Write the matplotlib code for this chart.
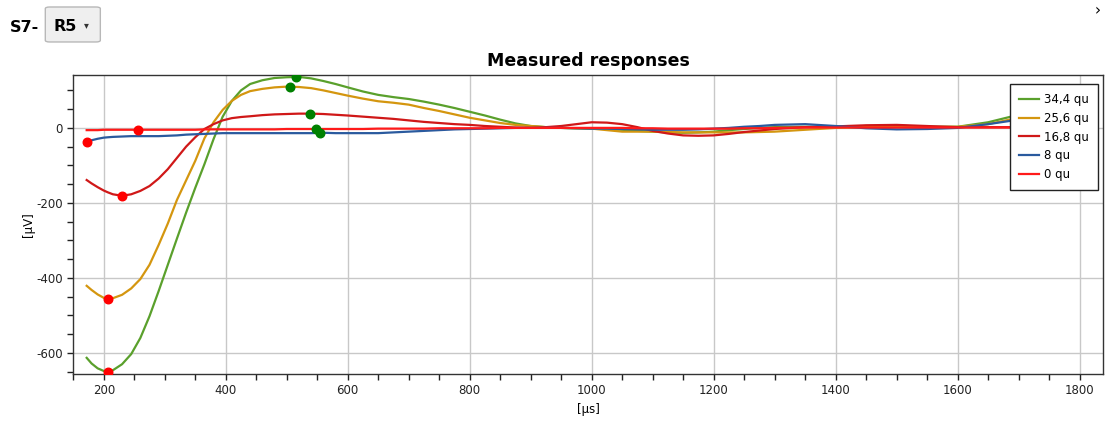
import numpy as np
import matplotlib
matplotlib.use("Agg")
import matplotlib.pyplot as plt
from matplotlib.ticker import MultipleLocator
from matplotlib.patches import FancyBboxPatch

plt.rcParams["axes.unicode_minus"] = False

# -------------------------
# Data
# -------------------------
x_us = [172, 180, 190, 200, 207, 215, 230, 245, 260, 275, 290, 305, 320, 335,
        350, 365, 380, 395, 410, 425, 440, 460, 480, 500, 520, 540, 560, 580,
        600, 625, 650, 675, 700, 725, 750, 775, 800, 825, 850, 875, 900, 925,
        950, 975, 1000, 1025, 1050, 1075, 1100, 1125, 1150, 1175, 1200, 1225,
        1250, 1275, 1300, 1350, 1400, 1450, 1500, 1550, 1600, 1650, 1700, 1720]

resp_34_4 = [-613, -628, -641, -648, -650, -646, -630, -603, -560, -502, -435,
             -365, -295, -226, -160, -97, -30, 30, 72, 100, 117, 127, 133, 135,
             136, 132, 125, 117, 108, 97, 88, 82, 77, 70, 62, 53, 43, 33, 22,
             12, 5, 2, 0, -1, -2, -3, -5, -8, -10, -12, -13, -12, -10, -6, -3,
             0, 2, 3, 2, 5, 6, 3, 3, 15, 35, 42]
resp_25_6 = [-421, -432, -444, -453, -456, -454, -445, -428, -403, -365, -312,
             -255, -192, -140, -88, -28, 15, 48, 72, 88, 98, 104, 108, 110,
             109, 106, 100, 93, 86, 78, 71, 67, 62, 53, 45, 36, 27, 20, 13,
             8, 5, 2, 0, -1, -2, -6, -10, -10, -10, -11, -12, -12, -12, -12,
             -12, -11, -10, -5, 0, 2, 3, 2, 3, 10, 27, 30]
resp_16_8 = [-139, -148, -158, -167, -172, -177, -181, -177, -168, -155, -135,
             -110, -80, -50, -25, -3, 10, 20, 26, 29, 31, 34, 36, 37, 38, 38,
             37, 35, 33, 30, 27, 24, 20, 16, 13, 10, 8, 5, 3, 1, 0, 2, 5, 10,
             15, 14, 10, 2, -8, -15, -20, -21, -20, -16, -11, -7, -3, 2, 4, 7,
             8, 5, 2, 2, 2, 2]
resp_8 = [-37, -33, -29, -26, -25, -24, -23, -22, -22, -22, -22, -21, -20,
          -18, -17, -16, -15, -14, -14, -14, -14, -14, -14, -14, -14, -14,
          -13, -14, -14, -14, -14, -12, -10, -8, -6, -4, -3, -2, -1, 0, 0,
          0, 0, -1, -2, -2, -3, -4, -5, -5, -5, -4, -2, 0, 3, 5, 8, 10, 5,
          -1, -4, -3, 0, 10, 22, 25]
resp_0 = [-6, -6, -6, -5, -5, -5, -5, -5, -5, -5, -5, -5, -5, -5, -5, -4, -4,
          -4, -4, -4, -4, -4, -4, -3, -3, -3, -3, -3, -3, -3, -2, -2, -2, -2,
          -1, -1, -1, -1, 0, 0, 0, 0, 0, 0, 0, 0, 0, -1, -1, -2, -2, -2, -2,
          -2, -1, -1, 0, 1, 1, 1, 1, 1, 1, 1, 1, 1]

labels = ["34,4 qu", "25,6 qu", "16,8 qu", "8 qu", "0 qu"]
series = [resp_34_4, resp_25_6, resp_16_8, resp_8, resp_0]
colors = ["#5aa02c", "#d4960f", "#d01818", "#2a5a9e", "#ff1a1a"]

# minimum / maximum markers per series
min_x = [207, 207, 230, 172, 256]
min_y = [-650, -456, -181, -38, -5]
max_x = [516, 505, 538, 555, 548]
max_y = [136, 110, 38, -13, -3]

# -------------------------
# Plot
# -------------------------
fig = plt.figure(figsize=(11.05, 4.24), dpi=100)
ax = fig.add_axes([0.0663, 0.118, 0.9317, 0.706])

for vals, col, lab in zip(series, colors, labels):
    ax.plot(x_us, vals, color=col, lw=1.6, label=lab, zorder=3)

ax.scatter(max_x, max_y, s=38, color="#008000", zorder=5)
ax.scatter(min_x, min_y, s=38, color="#ff0000", zorder=5)

ax.set_xlim(150, 1838)
ax.set_ylim(-656, 142)
ax.xaxis.set_major_locator(MultipleLocator(200))
ax.xaxis.set_minor_locator(MultipleLocator(50))
ax.yaxis.set_major_locator(MultipleLocator(200))
ax.yaxis.set_minor_locator(MultipleLocator(50))
ax.tick_params(which="both", direction="out", length=4, width=1, color="#222222",
               labelsize=8.5, labelcolor="#222222")
ax.grid(which="major", color="#c8c8c8", lw=1)
ax.set_axisbelow(True)
for sp in ax.spines.values():
    sp.set_color("#333333")
    sp.set_linewidth(1)

ax.set_title("Measured responses", fontsize=12.5, fontweight="bold", pad=6)
ax.set_xlabel("[µs]", fontsize=8.5, labelpad=4)
ax.set_ylabel("[µV]", fontsize=8.5, labelpad=1)

leg = ax.legend(loc="upper right", bbox_to_anchor=(0.995, 0.969), borderaxespad=0,
                fontsize=8.5, fancybox=False, framealpha=1, edgecolor="#222222",
                handlelength=1.7, labelspacing=0.5, borderpad=0.75,
                handletextpad=0.4)
leg.get_frame().set_linewidth(1)
leg.set_zorder(10)

# header controls
fig.text(0.009, 0.935, "S7-", fontsize=11.5, fontweight="bold", va="center")
box = FancyBboxPatch((0.041, 0.901), 0.0498, 0.0825, transform=fig.transFigure,
                     boxstyle="round,pad=0,rounding_size=0.004",
                     facecolor="#efefef", edgecolor="#b8b8b8", lw=1)
fig.patches.append(box)
fig.text(0.048, 0.937, "R5", fontsize=11.5, fontweight="bold", va="center")
fig.text(0.076, 0.940, "▾", fontsize=7, va="center", color="#333333")
fig.text(0.993, 0.975, "›", fontsize=11, va="center", ha="center")

fig.savefig("out.png", dpi=100)
